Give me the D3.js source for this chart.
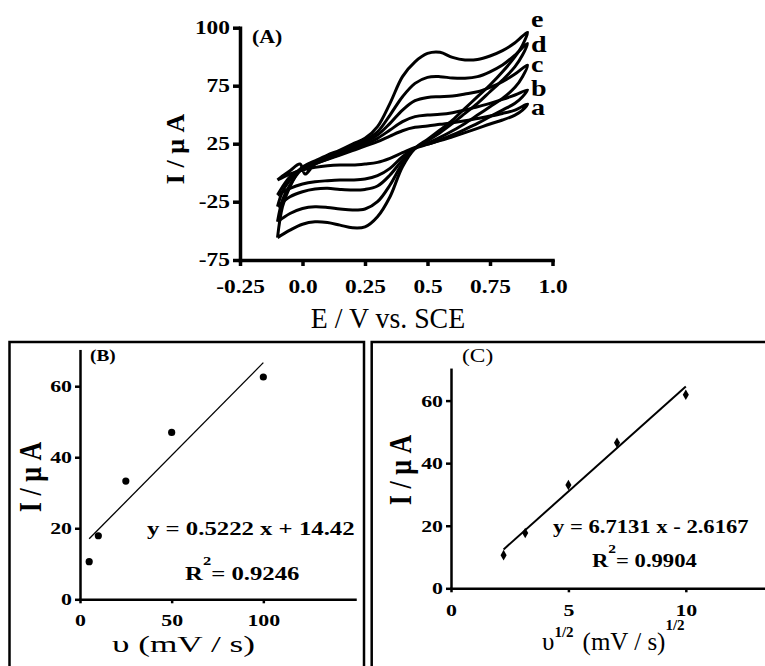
<!DOCTYPE html>
<html>
<head>
<meta charset="utf-8">
<script src="https://cdn.jsdelivr.net/npm/d3@7"></script>
<style>
body { margin: 0; background: #fff; }
svg { display: block; font-family: "Liberation Serif", "Times New Roman", serif; }
</style>
</head>
<body>
<script>
'use strict'
// ---- panel A: cyclic voltammograms (E in V, I in uA) ----
var fwdE = [-0.1, -0.08, -0.05, -0.01, 0.01, 0.05, 0.1, 0.15, 0.2, 0.25, 0.3, 0.35, 0.4, 0.45, 0.5, 0.55, 0.6, 0.65, 0.7, 0.75, 0.8, 0.85, 0.9];
var revE = [0.9, 0.88, 0.85, 0.8, 0.75, 0.7, 0.65, 0.6, 0.55, 0.5, 0.45, 0.4, 0.35, 0.3, 0.25, 0.2, 0.15, 0.1, 0.05, 0, -0.05, -0.1];

var aFwd = [-6.3, -2.9, 1.7, 7.5, -1.2, 7.5, 11.5, 15.2, 19.0, 23.0, 26.7, 31.6, 36.2, 39.1, 40.2, 41.7, 43.1, 44.8, 46.8, 48.8, 51.1, 54.0, 59.2];
var aRev = [59.2, 54.0, 49.7, 45.4, 42.0, 38.2, 34.5, 31.0, 27.6, 24.7, 21.8, 17.2, 12.4, 8.9, 7.5, 6.6, 6.6, 6.0, 4.6, 2.3, -1.2, -6.3];
var bFwd = [-19.3, -12.1, -3.5, 2.7, 4.5, 7.5, 11.8, 15.8, 20.1, 24.7, 29.6, 36.8, 44.0, 48.3, 49.7, 50.3, 51.7, 54.0, 56.9, 59.8, 63.2, 67.0, 71.3];
var bRev = [71.3, 65.5, 59.8, 54.0, 48.3, 42.5, 37.4, 32.5, 28.2, 24.4, 21.0, 13.8, 3.7, -2.6, -5.5, -6.3, -6.3, -6.9, -7.8, -9.8, -13.5, -19.3];
var cFwd = [-29.3, -16.4, -6.3, 2.3, 4.6, 8.0, 12.6, 16.7, 21.5, 26.7, 32.5, 42.5, 54.0, 62.1, 64.9, 65.5, 66.1, 67.8, 69.8, 73.6, 76.7, 80.0, 83.9];
var cRev = [83.9, 78.9, 73.6, 64.1, 56.9, 49.7, 42.5, 36.2, 30.4, 25.3, 21.0, 10.9, -2.0, -11.5, -14.4, -14.9, -14.4, -13.5, -14.1, -16.4, -20.7, -29.3];
var dFwd = [-42.2, -23.6, -10.6, 1.5, 4.7, 8.9, 13.8, 18.1, 23.0, 28.2, 35.3, 49.7, 65.5, 76.0, 78.6, 78.9, 78.3, 78.2, 78.9, 81.0, 83.9, 88.2, 93.2];
var dRev = [93.2, 88.2, 83.2, 77.4, 69.8, 59.8, 51.1, 42.5, 34.5, 27.6, 21.0, 8.0, -10.6, -25.0, -31.3, -32.2, -31.3, -29.9, -29.3, -30.8, -35.1, -42.2];
var eFwd = [-55.8, -29.3, -12.1, 3.0, 6.2, 10.3, 15.2, 19.5, 24.7, 29.6, 39.7, 59.8, 78.9, 85.3, 88.9, 89.4, 87.2, 86.1, 86.3, 87.8, 90.1, 93.5, 98.0];
var eRev = [98.0, 92.5, 87.5, 81.0, 75.3, 65.5, 55.5, 45.4, 36.8, 28.7, 21.0, 5.2, -20.7, -37.9, -46.6, -47.4, -45.1, -42.8, -42.2, -44.3, -49.4, -55.8];

var cvNames = ["a", "b", "c", "d", "e"];
var cvFwd = [aFwd, bFwd, cFwd, dFwd, eFwd];
var cvRev = [aRev, bRev, cRev, dRev, eRev];

var aXTicks = [-0.25, 0, 0.25, 0.5, 0.75, 1.0];
var aXLabels = ["-0.25", "0.0", "0.25", "0.5", "0.75", "1.0"];
var aYTicks = [100, 75, 25, -25, -75];

// ---- panel B: peak current vs scan rate ----
var scanRate = [5, 10, 25, 50, 100];
var peakB = [10.6, 17.9, 33.3, 47.0, 62.6];
var fitB = [0.5222, 14.42];
var bXTicks = [0, 50, 100];
var bYTicks = [0, 20, 40, 60];

// ---- panel C: peak current vs sqrt(scan rate) ----
var sqrtRate = [2.24, 3.16, 5.0, 7.07, 10.0];
var peakC = [10.6, 17.7, 33.0, 46.5, 61.9];
var fitC = [6.7131, -2.6167];
var cXTicks = [0, 5, 10];
var cYTicks = [0, 20, 40, 60];

var svg = d3.select("body").append("svg")
  .attr("width", 765)
  .attr("height", 666);

// text with a horizontal stretch, like the scanned figure
function txt(g, x, y, s, size, weight, sx, sy, anchor) {
  return g.append("text")
    .attr("transform", "translate(" + x + "," + y + ") scale(" + sx + "," + (sy || 1) + ")")
    .attr("font-size", size)
    .attr("font-weight", weight)
    .attr("text-anchor", anchor || "start")
    .attr("fill", "#000")
    .text(s);
}
function vtxt(g, x, y, s, size, sy) {
  return g.append("text")
    .attr("transform", "translate(" + x + "," + y + ") rotate(-90) scale(1," + sy + ")")
    .attr("font-size", size)
    .attr("font-weight", "bold")
    .attr("text-anchor", "middle")
    .text(s);
}
function styleAxis(g, width, size, sx) {
  g.selectAll("path, line").attr("stroke", "#000").attr("stroke-width", width);
  g.select(".domain").attr("stroke-linecap", "square");
  g.selectAll("text")
    .attr("fill", "#000")
    .attr("font-family", "Liberation Serif, Times New Roman, serif")
    .attr("font-weight", "bold")
    .attr("font-size", size)
    .attr("transform", "scale(" + sx + ",1)");
}
var plain = function(d) { return String(d); };

// ================= panel A =================
var xA = d3.scaleLinear().domain([-0.25, 1.0]).range([240, 552.5]);
var yA = d3.scaleLinear().domain([-75, -25, 25, 75, 100]).range([260, 201.7, 143.7, 85.7, 27.7]);

var cvLine = d3.line()
  .x(function(d) { return xA(d[0]); })
  .y(function(d) { return yA(d[1]); })
  .curve(d3.curveCatmullRom.alpha(0.5));

cvNames.forEach(function(name, k) {
  var pts = fwdE.map(function(e, i) { return [e, cvFwd[k][i]]; })
    .concat(revE.slice(1).map(function(e, i) { return [e, cvRev[k][i + 1]]; }));
  svg.append("path")
    .datum(pts)
    .attr("d", cvLine)
    .attr("fill", "none")
    .attr("stroke", "#000")
    .attr("stroke-width", 3)
    .attr("stroke-linejoin", "round");
});

var gAy = svg.append("g")
  .attr("transform", "translate(240,0)")
  .call(d3.axisLeft(yA).tickValues(aYTicks).tickFormat(plain)
    .tickSize(7).tickSizeOuter(0).tickPadding(0.7));
styleAxis(gAy, 3.5, 18, 1.3);

var gAx = svg.append("g")
  .attr("transform", "translate(0,260)")
  .call(d3.axisBottom(xA).tickValues(aXTicks).tickSize(6).tickSizeOuter(0).tickPadding(14)
    .tickFormat(function(d, i) { return aXLabels[i]; }));
styleAxis(gAx, 3.5, 18, 1.3);

// curve letters next to the switching points
var labelY = [115, 96, 72, 52, 27];
cvNames.forEach(function(name, k) {
  txt(svg, 531, labelY[k], name, 23, "bold", 1.22);
});

txt(svg, 252, 43, "(A)", 19, "bold", 1.15);
txt(svg, 388, 328, "E / V vs. SCE", 26, "normal", 1.07, 1.12, "middle");
vtxt(svg, 184, 149, "I / \u03bc A", 26, 1.0);

// ================= frames =================
svg.append("rect")
  .attr("x", 9.5).attr("y", 342).attr("width", 354.5).attr("height", 400)
  .attr("fill", "none").attr("stroke", "#000").attr("stroke-width", 2.5);
svg.append("rect")
  .attr("x", 371.7).attr("y", 342).attr("width", 450).attr("height", 400)
  .attr("fill", "none").attr("stroke", "#000").attr("stroke-width", 2.5);

// ================= panel B =================
var xB = d3.scaleLinear().domain([0, 150]).range([80, 355]);
var yB = d3.scaleLinear().domain([0, 70]).range([599.3, 350.7]);

svg.append("line")
  .attr("x1", xB(scanRate[0])).attr("y1", yB(fitB[0] * scanRate[0] + fitB[1]))
  .attr("x2", xB(scanRate[4])).attr("y2", yB(fitB[0] * scanRate[4] + fitB[1]))
  .attr("stroke", "#000").attr("stroke-width", 1.3);

svg.selectAll("circle.ptB")
  .data(scanRate)
  .enter().append("circle")
  .attr("class", "ptB")
  .attr("cx", function(d) { return xB(d); })
  .attr("cy", function(d, i) { return yB(peakB[i]); })
  .attr("r", 3.6)
  .attr("fill", "#000");

var gBy = svg.append("g")
  .attr("transform", "translate(80,0)")
  .call(d3.axisLeft(yB).tickValues(bYTicks).tickSize(5).tickSizeOuter(0).tickPadding(1.4));
styleAxis(gBy, 2.5, 17.5, 1.25);
var gBx = svg.append("g")
  .attr("transform", "translate(0,599.3)")
  .call(d3.axisBottom(xB).tickValues(bXTicks).tickSize(4).tickSizeOuter(0).tickPadding(10.5));
styleAxis(gBx, 2.5, 17.5, 1.25);

txt(svg, 90, 361, "(B)", 16, "bold", 1.2);
txt(svg, 147, 535, "y = " + fitB[0] + " x + " + fitB[1], 19.5, "bold", 1.27);
var rB = txt(svg, 185, 580, "R", 19.5, "bold", 1.27);
rB.append("tspan").attr("dy", -15).attr("font-size", 13).text("2");
rB.append("tspan").attr("dy", 15).text("= 0.9246");
txt(svg, 183.5, 652, "\u03c5 (mV / s)", 24, "normal", 1.47, 1, "middle");
vtxt(svg, 41, 477, "I / \u03bc A", 26, 1.25);

// ================= panel C =================
var xC = d3.scaleLinear().domain([0, 13.5]).range([451, 768]);
var yC = d3.scaleLinear().domain([0, 70]).range([588.3, 369.3]);

svg.append("line")
  .attr("x1", xC(sqrtRate[0])).attr("y1", yC(fitC[0] * sqrtRate[0] + fitC[1]))
  .attr("x2", xC(sqrtRate[4])).attr("y2", yC(fitC[0] * sqrtRate[4] + fitC[1]))
  .attr("stroke", "#000").attr("stroke-width", 2);

svg.selectAll("path.ptC")
  .data(sqrtRate)
  .enter().append("path")
  .attr("class", "ptC")
  .attr("d", d3.symbol().type(d3.symbolDiamond).size(32))
  .attr("transform", function(d, i) { return "translate(" + xC(d) + "," + yC(peakC[i]) + ")"; })
  .attr("fill", "#000");

var gCy = svg.append("g")
  .attr("transform", "translate(451,0)")
  .call(d3.axisLeft(yC).tickValues(cYTicks).tickSize(5).tickSizeOuter(0).tickPadding(1.4));
styleAxis(gCy, 2.5, 17.5, 1.25);
var gCx = svg.append("g")
  .attr("transform", "translate(0,588.3)")
  .call(d3.axisBottom(xC).tickValues(cXTicks).tickSize(4).tickSizeOuter(0).tickPadding(11.3));
styleAxis(gCx, 2.5, 17.5, 1.25);

txt(svg, 462, 362, "(C)", 18, "normal", 1.3);
txt(svg, 553, 533, "y = " + fitC[0] + " x - " + Math.abs(fitC[1]), 19, "bold", 1.19);
var rC = txt(svg, 592, 567, "R", 19, "bold", 1.19);
rC.append("tspan").attr("dy", -14).attr("font-size", 13).text("2");
rC.append("tspan").attr("dy", 14).text("= 0.9904");
var tC = txt(svg, 542, 650, "\u03c5", 25, "normal", 1);
tC.append("tspan").attr("dy", -13).attr("font-size", 15).attr("font-weight", "bold").text("1/2");
tC.append("tspan").attr("dy", 13).attr("dx", 9).text("(mV / s)");
tC.append("tspan").attr("dy", -20).attr("font-size", 15).attr("font-weight", "bold").text("1/2");
vtxt(svg, 411, 470, "I / \u03bc A", 26, 1.25);
</script>
</body>
</html>
